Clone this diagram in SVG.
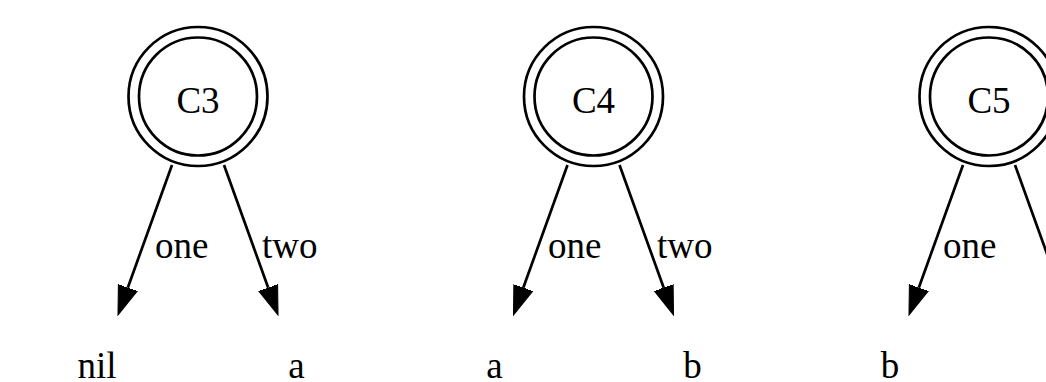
<svg xmlns="http://www.w3.org/2000/svg" width="1046" height="382" viewBox="0 0 1046 382">
<style>
.ring{fill:none;stroke:#000;stroke-width:2.7}
.edge{fill:none;stroke:#000;stroke-width:2.7}
text{font-family:"Liberation Serif","Times New Roman",serif;font-size:37px;fill:#000}
.mid{text-anchor:middle}
</style>
<defs>
<marker id="arr" markerUnits="userSpaceOnUse" markerWidth="30" markerHeight="22" refX="0" refY="10.5" orient="auto" viewBox="0 0 30 21">
<path d="M0,0.5 L29,10.5 L0,20.5 z" fill="#000" stroke="#000" stroke-width="1"/>
</marker>
</defs>
<rect width="1046" height="382" fill="#fff"/>
<g id="C3">
<circle class="ring" cx="198" cy="96.5" r="69.5"/>
<circle class="ring" cx="198" cy="96.5" r="59"/>
<text class="mid" x="198" y="113">C3</text>
</g>
<g id="C3_one"><text class="mid" x="97" y="378">nil</text></g>
<g id="C3_two"><text class="mid" x="296.5" y="378">a</text></g>
<g id="C4">
<circle class="ring" cx="593.5" cy="96.5" r="69.5"/>
<circle class="ring" cx="593.5" cy="96.5" r="59"/>
<text class="mid" x="593.5" y="113">C4</text>
</g>
<g id="C4_one"><text class="mid" x="494.5" y="378">a</text></g>
<g id="C4_two"><text class="mid" x="692.5" y="378">b</text></g>
<g id="C5">
<circle class="ring" cx="989" cy="96.5" r="69.5"/>
<circle class="ring" cx="989" cy="96.5" r="59"/>
<text class="mid" x="989" y="113">C5</text>
</g>
<g id="C5_one"><text class="mid" x="890" y="378">b</text></g>
<g id="connectors">
<line class="edge" x1="172" y1="165" x2="127.8" y2="287.7" marker-end="url(#arr)"/>
<line class="edge" x1="224" y1="165" x2="268.2" y2="287.7" marker-end="url(#arr)"/>
<text x="155" y="258">one</text>
<text x="262" y="258">two</text>
<line class="edge" x1="567.5" y1="165" x2="523.3" y2="287.7" marker-end="url(#arr)"/>
<line class="edge" x1="619.5" y1="165" x2="663.7" y2="287.7" marker-end="url(#arr)"/>
<text x="548" y="258">one</text>
<text x="657" y="258">two</text>
<line class="edge" x1="963" y1="165" x2="918.8" y2="287.7" marker-end="url(#arr)"/>
<line class="edge" x1="1015" y1="165" x2="1059.2" y2="287.7" marker-end="url(#arr)"/>
<text x="943" y="258">one</text>
</g>
</svg>
